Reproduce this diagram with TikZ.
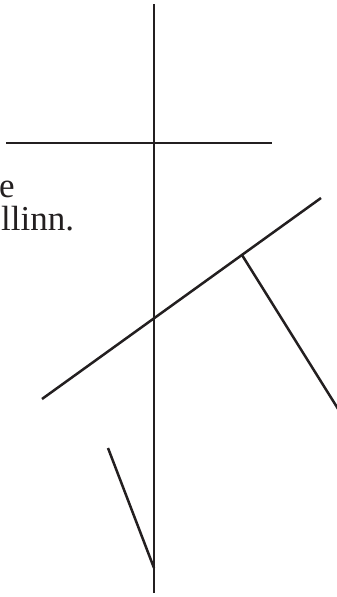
\documentclass[tikz,border=0pt]{standalone}
\usepackage{fontspec}
\setmainfont{Liberation Serif}
\definecolor{ink}{HTML}{231F20}
\begin{document}
\begin{tikzpicture}[x=1pt,y=-1pt,
  stroke/.style={draw=ink,line width=2.5pt},
  frag/.style={font=\fontsize{35}{40}\selectfont,text=ink,inner sep=0pt}]
\useasboundingbox (0,0) rectangle (337,597);
\clip (0,0) rectangle (337,597);
\coordinate (vtop) at (154,4);
\coordinate (vbot) at (154,593);
\coordinate (hl) at (6,143);
\coordinate (hr) at (272,143);
\coordinate (dl) at (42,399);
\coordinate (dr) at (321,198);
\coordinate (j) at (242,255);
\coordinate (br) at (340,412);
\coordinate (st) at (108,448);
\coordinate (sb) at (154,568);
\draw[stroke] (vtop) -- (vbot);
\draw[stroke] (hl) -- (hr);
\draw[stroke] (dl) -- (dr);
\draw[stroke] (j) -- (br);
\draw[stroke] (st) -- (sb);
\node[frag,anchor=base west] (t1) at (-1,197) {e};
\node[frag,anchor=base west] (t2) at (1,230) {llinn.};
\end{tikzpicture}
\end{document}
